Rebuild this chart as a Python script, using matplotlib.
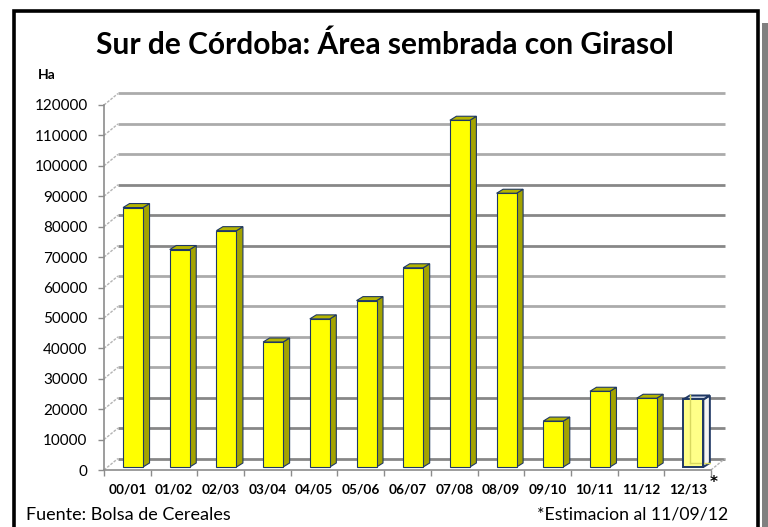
import matplotlib
matplotlib.use("Agg")
import matplotlib.pyplot as plt
from matplotlib.patches import Rectangle, Polygon
import numpy as np

plt.rcParams['font.family'] = ['Lato', 'DejaVu Sans']

# datos: hectareas sembradas con girasol, sur de Cordoba
campanias = ['00/01', '01/02', '02/03', '03/04', '04/05', '05/06', '06/07',
             '07/08', '08/09', '09/10', '10/11', '11/12', '12/13']
hectareas = [85300, 71500, 77700, 41100, 48700, 54700, 65500,
             114000, 90000, 15100, 24900, 22600, 22200]
y_ticks = list(range(0, 120001, 10000))

W, H = 768, 527
fig = plt.figure(figsize=(W / 100, H / 100), dpi=100)

# ejes "frontales" en pixeles: x 104..711, y 470..105
L, R, B, T = 104, 711, 470, 105
ax = fig.add_axes([L / W, 1 - B / H, (R - L) / W, (B - T) / H])
ax.set_xlim(-0.5, 12.5)
ax.set_ylim(0, 120000)
for s in ax.spines.values():
    s.set_visible(False)

PX_X = (R - L) / 13.0
PX_Y = (B - T) / 120000.0


def dx(px):
    return px / PX_X


def dy(px):
    return px / PX_Y


# pared del fondo
bx, by = dx(14), dy(11.5)
oscuro = [0, 10000, 20000, 70000, 80000, 90000]
for v in y_ticks:
    c = '#878787' if v in oscuro else '#ABABAB'
    ax.plot([-0.5 + bx, 12.5 + bx], [v + by, v + by], color=c, lw=2.0,
            zorder=1, solid_capstyle='butt', clip_on=False)
    ax.plot([-0.5, -0.5 + bx], [v, v + by], color='#B4B4B4', lw=1.0,
            ls=(0, (2, 1)), zorder=1, clip_on=False)
ax.plot([12.5, 12.5 + bx], [0, by], color='#B4B4B4', lw=1.0,
        ls=(0, (2, 1)), zorder=1, clip_on=False)

# ejes frontales
ax.plot([-0.5, -0.5], [0, 120000], color='#8C8C8C', lw=1.2, zorder=2, clip_on=False)
ax.plot([-0.5, 12.5], [0, 0], color='#8C8C8C', lw=1.2, zorder=2, clip_on=False)

# barras 3D
x = np.arange(len(campanias))
off_x, off_y = dx(5.7), dy(3)
bw = dx(20)
ddx, ddy = dx(6.5), dy(4)
navy = '#1F3864'
for i, v in enumerate(hectareas):
    x0 = x[i] + off_x - bw / 2
    x1 = x0 + bw
    b = off_y
    ultima = i == len(hectareas) - 1
    if ultima:
        front, side, top = '#FFFF88', '#F4F4F4', '#C9D2E3'
        lw = 1.4
    else:
        front, side, top = '#FFFF00', '#A3A300', '#B5B500'
        lw = 0.8
    side_p = Polygon([(x1, b), (x1 + ddx, b + ddy), (x1 + ddx, b + v + ddy), (x1, b + v)],
                     closed=True, facecolor=side, edgecolor=navy, lw=lw, zorder=3)
    top_p = Polygon([(x0, b + v), (x0 + ddx, b + v + ddy), (x1 + ddx, b + v + ddy), (x1, b + v)],
                    closed=True, facecolor=top, edgecolor=navy, lw=lw, zorder=3)
    ax.add_patch(side_p)
    ax.add_patch(top_p)
    ax.bar(x[i] + off_x, v, width=bw, bottom=b, color=front, edgecolor=navy,
           lw=lw, zorder=4)
    if ultima:
        # aristas traseras vistas por transparencia
        ax.plot([x0 + ddx, x0 + ddx], [b + ddy, b + v + ddy], color='#D8D860', lw=1, zorder=5)
        ax.plot([x0 + ddx, x1 + ddx], [b + ddy, b + ddy], color='#D8D860', lw=1, zorder=5)
        ax.plot([x1, x1], [b, b + v], color=navy, lw=lw, zorder=5)

# ticks
ax.set_yticks(y_ticks)
ax.set_yticklabels([str(v) for v in y_ticks], fontsize=11)
ax.tick_params(axis='y', direction='out', length=4.3, width=1, color='#8C8C8C', pad=7.5)
ax.set_xticks(x)
ax.set_xticklabels(campanias, fontsize=9.8, fontweight='bold')
ax.set_xticks(np.arange(-0.5, 13, 1), minor=True)
ax.tick_params(axis='x', which='major', length=0, pad=10)
ax.tick_params(axis='x', which='minor', direction='out', length=4.3, width=1, color='#8C8C8C')

# textos
fig.text(385 / W, 1 - 45 / H, 'Sur de Córdoba: Área sembrada con Girasol',
         fontsize=21.5, fontweight='bold', ha='center', va='center')
fig.text(47 / W, 1 - 75 / H, 'Ha', fontsize=10, fontweight='bold', ha='center', va='center')
fig.text(710 / W, 1 - 482 / H, '*', fontsize=11, fontweight='bold', ha='left', va='center',
         family='DejaVu Sans')
fig.text(26 / W, 1 - 515 / H, 'Fuente: Bolsa de Cereales', fontsize=13, ha='left', va='center')
fig.text(728 / W, 1 - 515 / H, '*Estimacion al 11/09/12', fontsize=12.7, ha='right', va='center')

# marco y sombra
fig.add_artist(Rectangle((762 / W, -0.02), 6 / W, 1 - 23 / H + 0.02, transform=fig.transFigure,
                         facecolor='#808080', edgecolor='none'))
fig.add_artist(Rectangle((14 / W, -0.05), 744 / W, 1 - 11 / H + 0.05, transform=fig.transFigure,
                         facecolor='none', edgecolor='black', lw=2.6))

fig.savefig('out.png', dpi=100, facecolor='white')
